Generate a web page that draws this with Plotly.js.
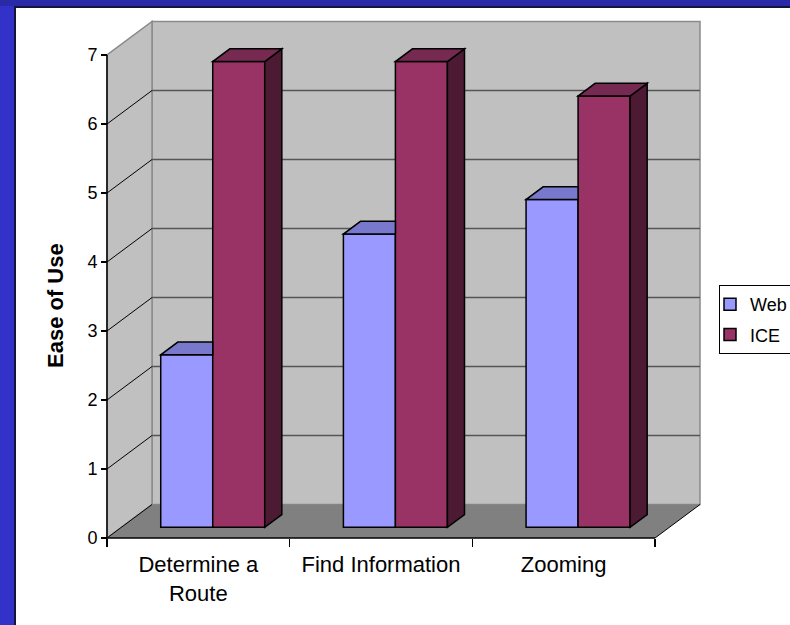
<!DOCTYPE html>
<html>
<head>
<meta charset="utf-8">
<script src="https://cdn.plot.ly/plotly-3.0.1.min.js"></script>
<style>html,body{margin:0;padding:0;background:#fff;overflow:hidden;}#chart{width:790px;height:625px;}</style>
</head>
<body>
<div id="chart"></div>
<script>
// ---- data ----
const categories = ["Determine a<br>Route", "Find Information", "Zooming"];
const webValues = [2.5, 4.25, 4.75];
const iceValues = [6.75, 6.75, 6.25];
const seriesNames = ["Web", "ICE"];
const yTickValues = [0, 1, 2, 3, 4, 5, 6, 7];
const yTitle = "Ease of Use";

// ---- layout geometry (pixels) ----
const W = 790, H = 625;
const FX0 = 107, FXR = 655, FY0 = 538, FY7 = 55;
const DXp = 45, DYp = 33.5;
const ux = (FXR - FX0) / categories.length;
const uy = (FY0 - FY7) / 7;
const ddx = DXp / ux, ddy = DYp / uy;
const f = 0.32, bf = 0.38;
const sx = f * ddx, sy = f * ddy;
const bdx = bf * ddx, bdy = bf * ddy;
const bw = 52 / ux;
const xl = -0.5, xr = categories.length - 0.5, ytop = 7;

const xDomL = 95, xDomR = 712, yDomB = 548, yDomT = 12;

const colors = {
  webFront: "#9999ff", webTop: "#7878cc", webSide: "#5a5a99",
  iceFront: "#993366", iceTop: "#762a52", iceSide: "#4d1a33",
  wall: "#c0c0c0", floor: "#808080"
};

const shapes = [];
function path(pts) {
  return "M" + pts.map(p => p[0] + "," + p[1]).join(" L") + " Z";
}
function line(x0, y0, x1, y1, color, width, layer) {
  shapes.push({type: "line", xref: "x", yref: "y", x0, y0, x1, y1,
    line: {color, width}, layer: layer || "below"});
}
// walls
shapes.push({type: "rect", xref: "x", yref: "y", x0: xl + ddx, x1: xr + ddx, y0: ddy, y1: ytop + ddy,
  fillcolor: colors.wall, line: {color: "#8a8a8a", width: 1.5}, layer: "below"});
shapes.push({type: "path", xref: "x", yref: "y",
  path: path([[xl, 0], [xl + ddx, ddy], [xl + ddx, ytop + ddy], [xl, ytop]]),
  fillcolor: colors.wall, line: {color: "#8a8a8a", width: 1.5}, layer: "below"});
shapes.push({type: "path", xref: "x", yref: "y",
  path: path([[xl, 0], [xr, 0], [xr + ddx, ddy], [xl + ddx, ddy]]),
  fillcolor: colors.floor, line: {width: 0}, layer: "below"});
// gridlines
for (let v = 1; v < 7; v++) {
  line(xl + ddx, v + ddy, xr + ddx, v + ddy, "#555555", 1.5);
  line(xl, v, xl + ddx, v + ddy, "#000000", 1);
}
line(xl, 0, xl + ddx, ddy, "#000000", 1);
line(xr, 0, xr + ddx, ddy, "#000000", 1);
// axis lines
line(xl, 0, xl, ytop, "#000000", 1.5);
line(xl, 0, xr, 0, "#000000", 1.5);

// 3D tops and sides of bars
categories.forEach((c, i) => {
  // ICE bar (right)
  const iL = i + sx, iR = i + sx + bw, iT = sy + iceValues[i];
  shapes.push({type: "path", xref: "x", yref: "y", layer: "above",
    path: path([[iR, sy], [iR, iT], [iR + bdx, iT + bdy], [iR + bdx, sy + bdy]]),
    fillcolor: colors.iceSide, line: {color: "#000", width: 1.5}});
  shapes.push({type: "path", xref: "x", yref: "y", layer: "above",
    path: path([[iL, iT], [iR, iT], [iR + bdx, iT + bdy], [iL + bdx, iT + bdy]]),
    fillcolor: colors.iceTop, line: {color: "#000", width: 1.5}});
  // Web bar (left)
  const wL = i + sx - bw, wR = i + sx, wT = sy + webValues[i];
  if (iceValues[i] >= webValues[i]) {
    shapes.push({type: "path", xref: "x", yref: "y", layer: "above",
      path: path([[wL, wT], [wR, wT], [wR, wT + bdy], [wL + bdx, wT + bdy]]),
      fillcolor: colors.webTop, line: {color: "#000", width: 1.5}});
  } else {
    shapes.push({type: "path", xref: "x", yref: "y", layer: "above",
      path: path([[wR, sy], [wR, wT], [wR + bdx, wT + bdy], [wR + bdx, sy + bdy]]),
      fillcolor: colors.webSide, line: {color: "#000", width: 1.5}});
    shapes.push({type: "path", xref: "x", yref: "y", layer: "above",
      path: path([[wL, wT], [wR, wT], [wR + bdx, wT + bdy], [wL + bdx, wT + bdy]]),
      fillcolor: colors.webTop, line: {color: "#000", width: 1.5}});
  }
});

// blue frame
shapes.push({type: "rect", xref: "paper", yref: "paper", x0: 0, x1: 14 / W, y0: 0, y1: 1,
  fillcolor: "#3232c8", line: {width: 0}, layer: "below"});
shapes.push({type: "rect", xref: "paper", yref: "paper", x0: 0, x1: 1, y0: 1 - 6 / H, y1: 1,
  fillcolor: "#2a2aa8", line: {width: 0}, layer: "below"});
shapes.push({type: "rect", xref: "paper", yref: "paper", x0: 14 / W, x1: 16 / W, y0: 0, y1: 1 - 6 / H,
  fillcolor: "#14143c", line: {width: 0}, layer: "below"});
shapes.push({type: "rect", xref: "paper", yref: "paper", x0: 14 / W, x1: 1, y0: 1 - 8 / H, y1: 1 - 6 / H,
  fillcolor: "#14143c", line: {width: 0}, layer: "below"});

const xs = categories.map((c, i) => i + sx);
const traces = [
  {type: "bar", name: seriesNames[0], x: xs, y: webValues, base: sy, width: bw, offset: -bw,
   marker: {color: colors.webFront, line: {color: "#000", width: 1.5}}, legendgroup: "a", hoverinfo: "skip"},
  {type: "bar", name: seriesNames[1], x: xs, y: iceValues, base: sy, width: bw, offset: 0,
   marker: {color: colors.iceFront, line: {color: "#000", width: 1.5}}, legendgroup: "b", hoverinfo: "skip"}
];

const layout = {
  width: W, height: H,
  margin: {l: 0, r: 0, t: 0, b: 0, autoexpand: false},
  paper_bgcolor: "#ffffff", plot_bgcolor: "rgba(0,0,0,0)",
  font: {family: "Liberation Sans, Arial, sans-serif", color: "#000"},
  barmode: "overlay",
  showlegend: true,
  legend: {x: 719 / W, y: 1 - 285 / H, xanchor: "left", yanchor: "top",
    bordercolor: "#000", borderwidth: 1, bgcolor: "#fff",
    font: {size: 18, family: "Liberation Sans, Arial, sans-serif"},
    traceorder: "grouped", tracegroupgap: 4, itemwidth: 30, indentation: -10},
  xaxis: {
    domain: [xDomL / W, xDomR / W],
    range: [xl - (FX0 - xDomL) / ux, xl + (xDomR - FX0) / ux],
    anchor: "free", position: 1 - FY0 / H,
    tickmode: "array", tickvals: categories.map((c, i) => i), ticktext: categories,
    ticks: "", showgrid: false, zeroline: false, showline: false,
    tickfont: {size: 22}, ticklabelstandoff: 11,
    minor: {tickmode: "array", tickvals: [-0.5, 0.5, 1.5, 2.5], ticks: "outside", ticklen: 8,
      tickcolor: "#000", tickwidth: 1.5, showgrid: false},
    fixedrange: true
  },
  yaxis: {
    domain: [1 - yDomB / H, 1 - yDomT / H],
    range: [-(yDomB - FY0) / uy, (FY0 - yDomT) / uy],
    anchor: "free", position: FX0 / W,
    tickmode: "array", tickvals: yTickValues,
    ticks: "outside", ticklen: 6, tickwidth: 1.5, tickcolor: "#000",
    showgrid: false, zeroline: false, showline: false,
    tickfont: {size: 18}, fixedrange: true
  },
  annotations: [{
    text: yTitle, xref: "paper", yref: "paper", x: 55 / W, y: 1 - 306 / H,
    textangle: -90, showarrow: false, font: {size: 22, family: "Liberation Sans, Arial, sans-serif", weight: "bold"},
    xanchor: "center", yanchor: "middle"
  }],
  shapes: shapes
};

Plotly.newPlot("chart", traces, layout, {displayModeBar: false, staticPlot: true});
</script>
</body>
</html>
